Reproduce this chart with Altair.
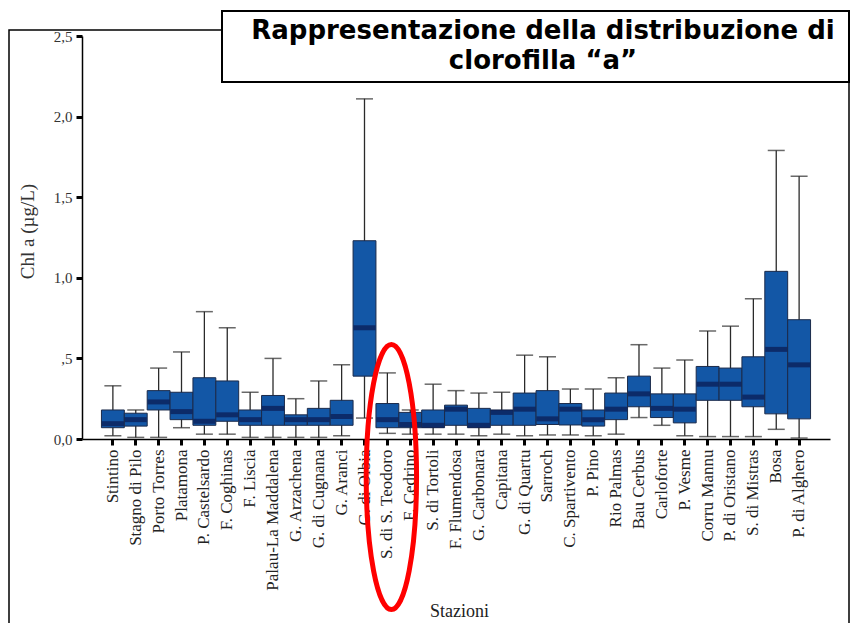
import altair as alt
import pandas as pd

stations = [
    "Stintino", "Stagno di Pilo", "Porto Torres", "Platamona", "P. Castelsardo",
    "F. Coghinas", "F. Liscia", "Palau-La Maddalena", "G. Arzachena", "G. di Cugnana",
    "G. Aranci", "G. di Olbia", "S. di S. Teodoro", "F. Cedrino", "S. di Tortoli",
    "F. Flumendosa", "G. Carbonara", "Capitana", "G. di Quartu", "Sarroch",
    "C. Spartivento", "P. Pino", "Rio Palmas", "Bau Cerbus", "Carloforte",
    "P. Vesme", "Corru Mannu", "P. di Oristano", "S. di Mistras", "Bosa", "P. di Alghero",
]
w_low = [0.02, 0.01, 0.01, 0.07, 0.03, 0.03, 0.01, 0.01, 0.01, 0.01, 0.02, 0.13, 0.035, 0.03, 0.03,
         0.03, 0.02, 0.03, 0.02, 0.025, 0.025, 0.02, 0.03, 0.133, 0.085, 0.02, 0.015, 0.015, 0.015, 0.06, 0.006]
q1 = [0.07, 0.08, 0.18, 0.12, 0.085, 0.11, 0.085, 0.085, 0.085, 0.085, 0.085, 0.39, 0.07, 0.07, 0.07,
      0.085, 0.07, 0.085, 0.085, 0.09, 0.087, 0.08, 0.12, 0.20, 0.133, 0.10, 0.24, 0.24, 0.20, 0.156, 0.125]
median = [0.095, 0.12, 0.23, 0.17, 0.11, 0.15, 0.12, 0.19, 0.12, 0.12, 0.14, 0.69, 0.12, 0.09, 0.085,
          0.185, 0.085, 0.165, 0.185, 0.125, 0.185, 0.12, 0.185, 0.28, 0.19, 0.185, 0.34, 0.34, 0.26, 0.556, 0.46]
q3 = [0.18, 0.16, 0.30, 0.29, 0.38, 0.36, 0.18, 0.27, 0.15, 0.19, 0.24, 1.23, 0.22, 0.165, 0.18,
      0.21, 0.19, 0.18, 0.285, 0.30, 0.22, 0.18, 0.285, 0.39, 0.28, 0.28, 0.45, 0.44, 0.51, 1.04, 0.74]
w_high = [0.33, 0.18, 0.44, 0.54, 0.79, 0.69, 0.29, 0.50, 0.25, 0.36, 0.46, 2.11, 0.41, 0.18, 0.34,
          0.30, 0.285, 0.29, 0.52, 0.51, 0.31, 0.31, 0.38, 0.585, 0.44, 0.49, 0.67, 0.70, 0.87, 1.79, 1.63]
y_ticks = [0.0, 0.5, 1.0, 1.5, 2.0, 2.5]
title_lines = ["Rappresentazione della distribuzione di", "clorofilla \u201ca\u201d"]
y_title = "Chl a (\u00b5g/L)"
x_title = "Stazioni"
highlighted = "S. di S. Teodoro"

df = pd.DataFrame({"station": stations, "lo": w_low, "q1": q1, "med": median, "q3": q3, "hi": w_high})
one = pd.DataFrame({"k": [0]})

W, H = 748, 403
SERIF = "Liberation Serif"

xscale = alt.Scale(domain=stations, paddingInner=0, paddingOuter=0.85)
yscale = alt.Scale(domain=[0, 2.5], nice=False, zero=True)

x_axis = alt.Axis(
    title=x_title, labelAngle=-90, labelFont=SERIF, labelFontSize=17, labelColor="#222222",
    labelPadding=4, tickSize=6, tickWidth=3, tickColor="black", domainColor="black", domainWidth=1.5,
    titleFont=SERIF, titleFontSize=18, titleFontWeight="normal", titleColor="#222222",
    titleX=377, titleY=177, titleBaseline="alphabetic", labelLimit=300,
)
y_axis = alt.Axis(
    values=y_ticks,
    labelExpr="datum.value == 0.5 ? ',5' : replace(format(datum.value, '.1f'), '.', ',')",
    labelFont=SERIF, labelFontSize=15, labelColor="#333333", labelPadding=4,
    tickSize=6, tickWidth=3, tickColor="black", domainColor="black", domainWidth=1.5,
    title=y_title, titleFont=SERIF, titleFontSize=19, titleFontWeight="normal", titleColor="#333333",
    titleX=-55, titleY=195, titleAngle=270, titleAlign="center", titleBaseline="middle", grid=False,
)

base = alt.Chart(df).encode(x=alt.X("station:N", scale=xscale, sort=None, axis=x_axis))

whiskers = base.mark_rule(color="#2a2a2a", strokeWidth=1.3).encode(
    y=alt.Y("lo:Q", scale=yscale, axis=y_axis), y2="hi:Q"
)
boxes = base.mark_bar(color="#1357a6", stroke="#1b2a4a", strokeWidth=1).encode(
    y=alt.Y("q1:Q", scale=yscale), y2="q3:Q"
)
medians = base.mark_tick(color="#0a1850", thickness=5, size=22).encode(y=alt.Y("med:Q", scale=yscale))
caps_lo = base.mark_tick(color="#2a2a2a", thickness=1.5, size=17).encode(y=alt.Y("lo:Q", scale=yscale))
caps_hi = base.mark_tick(color="#2a2a2a", thickness=1.5, size=17).encode(y=alt.Y("hi:Q", scale=yscale))

frame = alt.Chart(one).mark_rect(fillOpacity=0, stroke="black", strokeWidth=1.5).encode(
    x=alt.value(-73), x2=alt.value(767), y=alt.value(-6), y2=alt.value(700)
)
title_box = alt.Chart(one).mark_rect(fill="white", stroke="black", strokeWidth=2).encode(
    x=alt.value(140), x2=alt.value(767), y=alt.value(-25), y2=alt.value(46)
)
t1 = alt.Chart(one).mark_text(
    text=title_lines[0], font="DejaVu Sans", fontWeight="bold", fontSize=26, align="center",
    baseline="alphabetic", color="black"
).encode(x=alt.value(461), y=alt.value(3))
t2 = alt.Chart(one).mark_text(
    text=title_lines[1], font="DejaVu Sans", fontWeight="bold", fontSize=26, align="center",
    baseline="alphabetic", color="black"
).encode(x=alt.value(461), y=alt.value(33))

# red hand-drawn highlight ellipse around one station
ellipse_path = "M -0.19 0 A 0.19 1 0 1 0 0.19 0 A 0.19 1 0 1 0 -0.19 0"
highlight = alt.Chart(one).mark_point(
    shape=ellipse_path, filled=False, stroke="#ff0000", strokeWidth=5, opacity=1, size=265 * 265,
    xOffset=4
).encode(x=alt.X(datum=highlighted, type="nominal", scale=xscale), y=alt.value(441))

chart = alt.layer(frame, whiskers, boxes, medians, caps_lo, caps_hi, title_box, t1, t2, highlight).properties(
    width=W, height=H, autosize="none",
    padding={"left": 74, "top": 28, "right": 20, "bottom": 184},
).configure_view(stroke=None).configure_axisX(
    labelFont=SERIF, labelFontSize=17, titleFont=SERIF
)

chart.save("out.html", embed_options={"renderer": "svg", "actions": False})
